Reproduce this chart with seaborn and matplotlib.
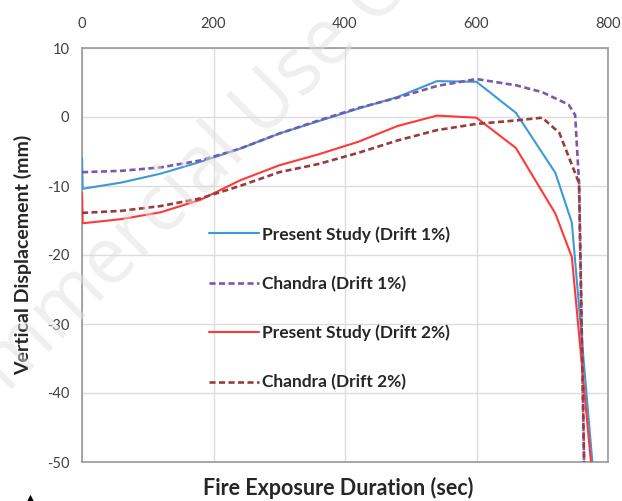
import matplotlib
matplotlib.use("Agg")
import matplotlib.pyplot as plt
import seaborn as sns
import pandas as pd

# Fire exposure time (sec) and vertical displacement (mm) for each series
ps1_time = [0, 1, 60, 120, 180, 240, 300, 360, 420, 480, 540, 600, 660, 720, 745, 778]
ps1_disp = [-5.9, -10.4, -9.5, -8.2, -6.5, -4.6, -2.4, -0.6, 1.2, 2.9, 5.2, 5.1, 0.6, -8.1, -15.3, -52]

ch1_time = [0, 60, 120, 180, 240, 300, 360, 420, 480, 540, 600, 660, 700, 740, 750, 756, 764]
ch1_disp = [-8.0, -7.8, -7.3, -6.3, -4.6, -2.4, -0.5, 1.3, 2.8, 4.5, 5.5, 4.6, 3.6, 1.8, 0.3, -9.6, -52]

ps2_time = [0, 1, 60, 120, 180, 240, 300, 360, 420, 480, 540, 600, 660, 720, 745, 776]
ps2_disp = [-11.0, -15.4, -14.8, -13.8, -12.0, -9.2, -7.0, -5.4, -3.6, -1.3, 0.2, -0.1, -4.5, -14.0, -20.3, -52]

ch2_time = [0, 60, 120, 180, 240, 300, 360, 420, 480, 540, 600, 660, 700, 726, 756, 764]
ch2_disp = [-13.9, -13.6, -12.9, -11.8, -10.0, -8.0, -6.8, -5.2, -3.4, -1.9, -1.0, -0.5, -0.1, -2.3, -9.6, -52]

series_names = ["Present Study (Drift 1%)", "Chandra (Drift 1%)",
                "Present Study (Drift 2%)", "Chandra (Drift 2%)"]
x_ticks = [0, 200, 400, 600, 800]
y_ticks = [10, 0, -10, -20, -30, -40, -50]

sns.set_style("white")
plt.rcParams["font.family"] = ["Lato", "DejaVu Sans"]
plt.rcParams["axes.unicode_minus"] = False

fig = plt.figure(figsize=(6.22, 5.01), dpi=100)
ax = fig.add_axes([82 / 622, 1 - 462 / 501, 526 / 622, 414 / 501])

styles = [
    ("#3D9AD8", 1.5, None),
    ("#7A5AA8", 1.9, (2.3, 1.3)),
    ("#FF3838", 1.5, None),
    ("#9A3B3B", 1.9, (2.3, 1.3)),
]
series_data = [(ps1_time, ps1_disp), (ch1_time, ch1_disp),
               (ps2_time, ps2_disp), (ch2_time, ch2_disp)]
for name, (t, d), (c, lw, dash) in zip(series_names, series_data, styles):
    df = pd.DataFrame({"time": t, "disp": d})
    sns.lineplot(data=df, x="time", y="disp", sort=False, estimator=None,
                 color=c, linewidth=lw, label=name, ax=ax, zorder=3)
    if dash is not None:
        ax.get_lines()[-1].set_dashes(dash)

ax.set_xlim(0, 800)
ax.set_ylim(-50, 10)
ax.set_xticks(x_ticks)
ax.set_yticks(y_ticks)
ax.xaxis.tick_top()
ax.tick_params(axis="x", length=0, pad=12, labelsize=10.5, labelcolor="#404040")
ax.tick_params(axis="y", length=6, width=1, color="#999999", pad=3,
               labelsize=10.5, labelcolor="#404040")
ax.grid(True, color="#DCDCDC", linewidth=1)
for s in ax.spines.values():
    s.set_color("#999999")
    s.set_linewidth(1.2)

ax.set_xlabel("Fire Exposure Duration (sec)", fontsize=15.5, fontweight="bold")
ax.xaxis.set_label_position("bottom")
ax.xaxis.set_label_coords(0.487, -0.036)
ax.set_ylabel("Vertical Displacement (mm)", fontsize=14, fontweight="bold")
ax.yaxis.set_label_coords(-0.094, 0.5)

ax.legend(loc="upper left", bbox_to_anchor=(209 / 622, 1 - 226 / 501),
          bbox_transform=fig.transFigure, frameon=False, borderpad=0,
          borderaxespad=0, labelspacing=1.9, handlelength=2.9,
          handletextpad=0.17, prop={"weight": "bold", "size": 12.5})

# faint diagonal watermark
wm = dict(fontsize=56, color="#E0E0E0", alpha=0.5, rotation=45,
          rotation_mode="anchor", family=["Open Sans", "DejaVu Sans"], zorder=10)
fig.text(262 / 622, 1 - 140 / 501, "Non-commercial ", ha="right", va="baseline", **wm)
fig.text(262 / 622, 1 - 140 / 501, "Use Only", ha="left", va="baseline", **wm)

fig.text(30 / 622, 0.0, "\u25B2", ha="center", va="center", fontsize=14,
         color="black", family=["DejaVu Sans"])

fig.savefig("out.png", dpi=100)
